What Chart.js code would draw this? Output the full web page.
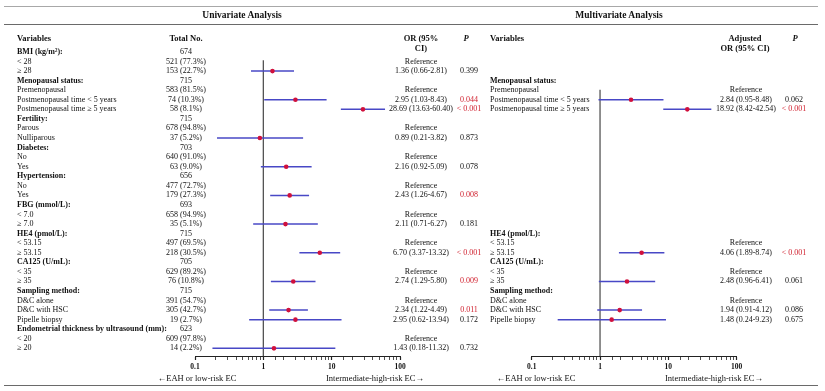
<!DOCTYPE html>
<html>
<head>
<meta charset="utf-8">
<script src="https://cdn.jsdelivr.net/npm/chart.js@4/dist/chart.umd.min.js"></script>
<style>
  html,body{margin:0;padding:0;background:#fff;}
  #wrap{position:relative;width:825px;height:391px;overflow:hidden;font-family:"Liberation Serif","Times New Roman",serif;color:#111;}
  canvas{position:absolute;left:0;top:0;}
  .t{position:absolute;white-space:nowrap;line-height:1;font-size:8px;}
  .rule{position:absolute;height:0;}
</style>
</head>
<body>
<div id="wrap">
  <canvas id="cL" width="825" height="391"></canvas>
  <canvas id="cR" width="825" height="391"></canvas>
</div>
<script>
// ---------------- DATA ----------------
const rowLabels = [
  'BMI (kg/m²):','< 28','≥ 28',
  'Menopausal status:','Premenopausal','Postmenopausal time < 5 years','Postmenopausal time ≥ 5 years',
  'Fertility:','Parous','Nulliparous',
  'Diabetes:','No','Yes',
  'Hypertension:','No','Yes',
  'FBG (mmol/L):','< 7.0','≥ 7.0',
  'HE4 (pmol/L):','< 53.15','≥ 53.15',
  'CA125 (U/mL):','< 35','≥ 35',
  'Sampling method:','D&C alone','D&C with HSC','Pipelle biopsy',
  'Endometrial thickness by ultrasound (mm):','< 20','≥ 20'
];
const groupRows = [0,3,7,10,13,16,19,22,25,29];
const totalNo = ['674','521 (77.3%)','153 (22.7%)','715','583 (81.5%)','74 (10.3%)','58 (8.1%)',
  '715','678 (94.8%)','37 (5.2%)','703','640 (91.0%)','63 (9.0%)','656','477 (72.7%)','179 (27.3%)',
  '693','658 (94.9%)','35 (5.1%)','715','497 (69.5%)','218 (30.5%)','705','629 (89.2%)','76 (10.8%)',
  '715','391 (54.7%)','305 (42.7%)','19 (2.7%)','623','609 (97.8%)','14 (2.2%)'];

const uniRefRows = [1,4,8,11,14,17,20,23,26,30];
const uniRows = [2,5,6,9,12,15,18,21,24,27,28,31];
const uniOR = [1.36,2.95,28.69,0.89,2.16,2.43,2.11,6.70,2.74,2.34,2.95,1.43];
const uniLo = [0.66,1.03,13.63,0.21,0.92,1.26,0.71,3.37,1.29,1.22,0.62,0.18];
const uniHi = [2.81,8.43,60.40,3.82,5.09,4.67,6.27,13.32,5.80,4.49,13.94,11.32];
const uniP  = ['0.399','0.044','< 0.001','0.873','0.078','0.008','0.181','< 0.001','0.009','0.011','0.172','0.732'];

const multiLabelRows = [3,4,5,6,19,20,21,22,23,24,25,26,27,28];
const multiRefRows = [4,20,23,26];
const multiRows = [5,6,21,24,27,28];
const multiOR = [2.84,18.92,4.06,2.48,1.94,1.48];
const multiLo = [0.95,8.42,1.89,0.96,0.91,0.24];
const multiHi = [8.48,42.54,8.74,6.41,4.12,9.23];
const multiP  = ['0.062','< 0.001','< 0.001','0.061','0.086','0.675'];

const tickValues = [0.1,1,10,100];
const tickLabels = ['0.1','1','10','100'];

// ---------------- LAYOUT ----------------
const ROW0 = 52, ROWH = 9.56, AXIS_Y = 356;
const rowY = i => ROW0 + ROWH * i;
const wrap = document.getElementById('wrap');
function txt(s, x, y, o = {}) {
  const d = document.createElement('div');
  d.className = 't';
  d.textContent = s;
  d.style.left = x + 'px';
  d.style.top = y + 'px';
  const tx = o.align === 'center' ? '-50%' : (o.align === 'right' ? '-100%' : '0');
  d.style.transform = `translate(${tx},-50%)`;
  if (o.bold) d.style.fontWeight = 'bold';
  if (o.italic) d.style.fontStyle = 'italic';
  if (o.size) d.style.fontSize = o.size + 'px';
  if (o.color) d.style.color = o.color;
  if (o.family) d.style.fontFamily = o.family;
  wrap.appendChild(d);
}
function rule(y, x1, x2, w, c) {
  const d = document.createElement('div');
  d.className = 'rule';
  d.style.left = x1 + 'px'; d.style.width = (x2 - x1) + 'px';
  d.style.top = y + 'px'; d.style.borderTop = `${w}px solid ${c}`;
  wrap.appendChild(d);
}
rule(6, 4, 818, 1, '#a8a8a8');
rule(24, 4, 818, 1, '#6a6a6a');
rule(385, 4, 818, 1.5, '#6a6a6a');

const RED = '#d0202e';
const isSig = p => p.indexOf('<') >= 0 || parseFloat(p) < 0.05;
const fmt = (o,l,h) => `${o.toFixed(2)} (${l.toFixed(2)}-${h.toFixed(2)})`;

// titles / headers
txt('Univariate Analysis', 242, 16, {align:'center', bold:true, size:9.5});
txt('Multivariate Analysis', 619, 16, {align:'center', bold:true, size:9.5});
txt('Variables', 17, 38, {bold:true, size:8.5});
txt('Total No.', 186, 38, {align:'center', bold:true, size:8.5});
txt('OR (95%', 421, 38, {align:'center', bold:true, size:8.5});
txt('CI)', 421, 48, {align:'center', bold:true, size:8.5});
txt('P', 466, 38, {align:'center', bold:true, italic:true, size:8.5});
txt('Variables', 490, 38, {bold:true, size:8.5});
txt('Adjusted', 745, 38, {align:'center', bold:true, size:8.5});
txt('OR (95% CI)', 745, 48, {align:'center', bold:true, size:8.5});
txt('P', 795, 38, {align:'center', bold:true, italic:true, size:8.5});

// left table
rowLabels.forEach((s, i) => {
  txt(s, 17, rowY(i), {bold: groupRows.includes(i)});
  txt(totalNo[i], 186, rowY(i), {align:'center'});
});
uniRefRows.forEach(i => txt('Reference', 421, rowY(i), {align:'center'}));
uniRows.forEach((r, k) => {
  txt(fmt(uniOR[k], uniLo[k], uniHi[k]), 421, rowY(r), {align:'center'});
  txt(uniP[k], 469, rowY(r), {align:'center', color: isSig(uniP[k]) ? RED : '#111'});
});
// right table
multiLabelRows.forEach(i => txt(rowLabels[i], 490, rowY(i), {bold: groupRows.includes(i)}));
multiRefRows.forEach(i => txt('Reference', 746, rowY(i), {align:'center'}));
multiRows.forEach((r, k) => {
  txt(fmt(multiOR[k], multiLo[k], multiHi[k]), 746, rowY(r), {align:'center'});
  txt(multiP[k], 794, rowY(r), {align:'center', color: isSig(multiP[k]) ? RED : '#111'});
});
// axis captions
txt('←EAH or low-risk EC', 197, 378, {align:'center', size:8.5});
txt('Intermediate-high-risk EC→', 375, 378, {align:'center', size:8.5});
txt('←EAH or low-risk EC', 536, 378, {align:'center', size:8.5});
txt('Intermediate-high-risk EC→', 714, 378, {align:'center', size:8.5});

// ---------------- CHARTS ----------------
const LINE = '#4848c6', DOT = '#d0103c';
const isMajor = v => Math.abs(Math.log10(v) - Math.round(Math.log10(v))) < 1e-6;

function makeChart(id, left, right, rows, ors, los, his, refTop) {
  const datasets = [];
  datasets.push({
    type:'scatter', order:0,
    data: rows.map((r,k) => ({x: ors[k], y: r})),
    pointRadius: 2.3, pointHoverRadius: 2.3, pointStyle:'circle',
    backgroundColor: DOT, borderWidth: 0
  });
  rows.forEach((r,k) => datasets.push({
    type:'line', order:1,
    data: [{x: los[k], y: r}, {x: his[k], y: r}],
    borderColor: LINE, borderWidth: 1.5, pointRadius: 0, fill:false
  }));
  datasets.push({
    type:'line', order:2,
    data: [{x:1, y: refTop}, {x:1, y: 31.8}],
    borderColor: '#555', borderWidth: 1.3, pointRadius: 0, fill:false
  });
  return new Chart(document.getElementById(id), {
    type: 'scatter',
    data: { datasets },
    options: {
      responsive:false, animation:false, devicePixelRatio:1,
      layout: { padding: { left: left, right: 825 - right, top: rowY(-1), bottom: 0 } },
      plugins: { legend:{display:false}, tooltip:{enabled:false} },
      events: [],
      scales: {
        x: {
          type:'logarithmic', min:0.1, max:100, position:'bottom',
          afterFit: s => { s.height = 391 - AXIS_Y; },
          border: { display:true, color:'#222', width:1 },
          grid: { drawOnChartArea:false, drawTicks:true, tickLength:4,
                  tickColor:'#222',
                  tickWidth: c => (c.tick && isMajor(c.tick.value)) ? 1.2 : 0.8 },
          ticks: {
            autoSkip:false, maxRotation:0, minRotation:0, padding:3, color:'#111',
            font: { family:'Liberation Serif', size:7.5, weight:'bold' },
            callback: v => { const i = tickValues.findIndex(t => Math.abs(t - v) < 1e-9); return i >= 0 ? tickLabels[i] : ''; }
          }
        },
        y: { type:'linear', display:false, reverse:true, min:-1, max:31.8 }
      }
    }
  });
}
makeChart('cL', 195, 400, uniRows, uniOR, uniLo, uniHi, 0.85);
makeChart('cR', 531.7, 736.7, multiRows, multiOR, multiLo, multiHi, 3.95);
</script>
</body>
</html>
